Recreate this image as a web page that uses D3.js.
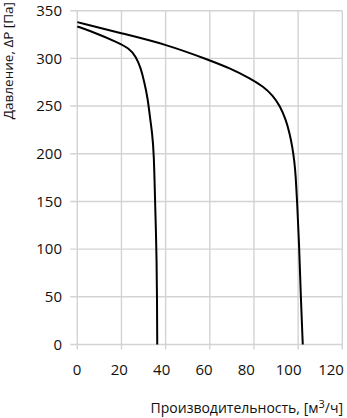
<!DOCTYPE html>
<meta charset='utf-8'>
<style>
    body { margin: 0; background: #fff; }
    .grid line { stroke: #d3d3d3; stroke-width: 1.4; }
    .curve { fill: none; stroke: #000; stroke-width: 2; }
    text { font-family: 'Open Sans', sans-serif; fill: #111; }
</style>

<svg width="347" height="418"></svg>
<script src="https://d3js.org/d3.v7.min.js"></script>

<script>

// flow, m3/h  /  pressure, Pa
var xTicks = [0, 20, 40, 60, 80, 100, 120];
var yTicks = [0, 50, 100, 150, 200, 250, 300, 350];

var smallFlow = [0, 8.5, 17.5, 23.5, 26.6, 28.8, 30.3, 31.9, 32.8, 33.9, 34.7, 35.2, 35.6, 35.9, 36.1, 36.2];
var smallP    = [333.5, 326.4, 317.6, 310.6, 301.8, 289.5, 275.5, 258, 240, 222, 200, 151, 120, 90, 50, 0];

var bigFlow = [0, 19.8, 40.2, 60, 69.2, 78.3, 84.3, 88.6, 91.8, 94.4, 96.1, 97.4, 98.3, 98.9, 99.5, 100.4, 101.2, 102.1];
var bigP    = [338, 326.4, 314.8, 298, 289.6, 279, 270.3, 261, 250, 236, 222, 207, 192, 177, 151, 109, 50, 0];

var svg = d3.select('svg');

var x = d3.scaleLinear().domain([0, 120]).range([77.3, 342.3]);
var y = d3.scaleLinear().domain([0, 350]).range([344.5, 10.7]);
// tick labels in the original sit a little left of their gridlines
var xLab = d3.scaleLinear().domain([0, 120]).range([77, 331]);

var grid = svg.append('g').attr('class', 'grid');

grid.selectAll('.v')
    .data(xTicks)
    .enter().append('line')
    .attr('x1', function(d) { return x(d); })
    .attr('x2', function(d) { return x(d); })
    .attr('y1', y(350))
    .attr('y2', y(0) + 5);

grid.selectAll('.h')
    .data(yTicks)
    .enter().append('line')
    .attr('x1', x(0) - 7)
    .attr('x2', x(120))
    .attr('y1', function(d) { return y(d); })
    .attr('y2', function(d) { return y(d); });

svg.append('g').selectAll('text')
    .data(yTicks)
    .enter().append('text')
    .attr('x', 62)
    .attr('y', function(d) { return y(d); })
    .attr('dy', '0.35em')
    .attr('text-anchor', 'end')
    .style('font-size', '15px')
    .text(function(d) { return d; });

svg.append('g').selectAll('text')
    .data(xTicks)
    .enter().append('text')
    .attr('x', function(d) { return xLab(d); })
    .attr('y', 375)
    .attr('text-anchor', 'middle')
    .style('font-size', '15px')
    .text(function(d) { return d; });

var line = d3.line()
    .x(function(d) { return x(d[0]); })
    .y(function(d) { return y(d[1]); })
    .curve(d3.curveBasis);

svg.append('path')
    .datum(d3.zip(smallFlow, smallP))
    .attr('class', 'curve')
    .attr('d', line);

svg.append('path')
    .datum(d3.zip(bigFlow, bigP))
    .attr('class', 'curve')
    .attr('d', line);

var xt = svg.append('text')
    .attr('x', 343)
    .attr('y', 413)
    .attr('text-anchor', 'end')
    .style('font-size', '14px');
xt.append('tspan').text('Производительность, [м');
xt.append('tspan').attr('dy', -5).style('font-size', '11px').text('3');
xt.append('tspan').attr('dy', 5).text('/ч]');

svg.append('text')
    .attr('transform', 'translate(13,2) rotate(-90)')
    .attr('text-anchor', 'end')
    .style('font-size', '13.5px')
    .text('Давление, ΔP [Па]');

</script>
